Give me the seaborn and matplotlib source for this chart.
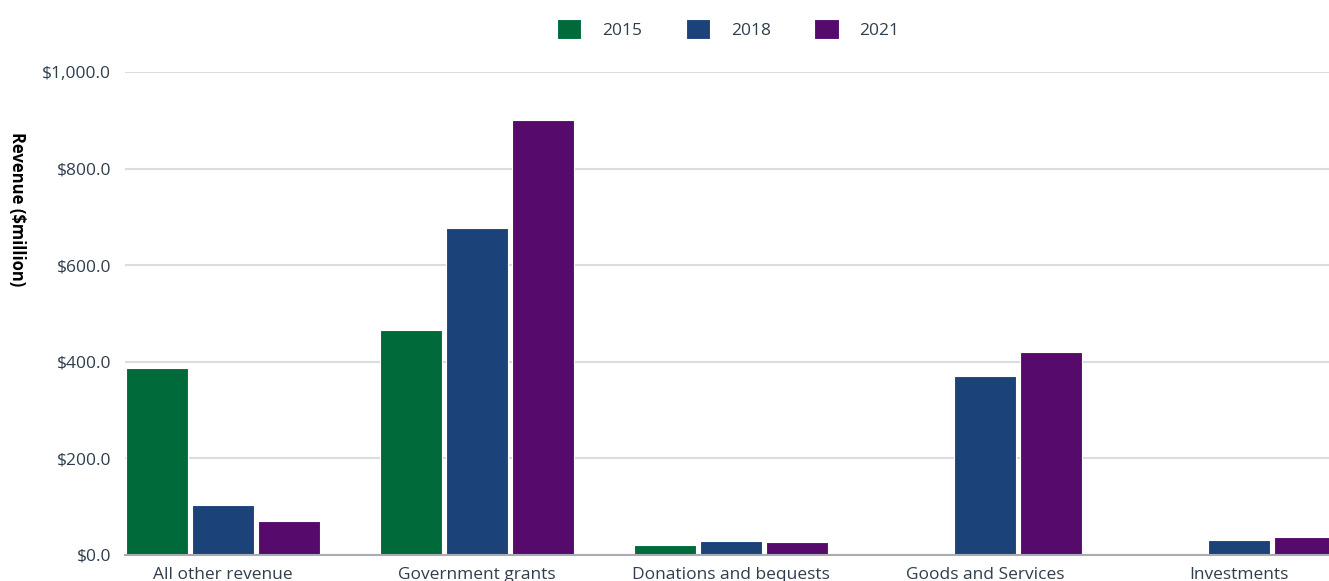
import pandas as pd
import numpy as np
import matplotlib.pyplot as plt
import seaborn as sns
from matplotlib.ticker import FuncFormatter

categories = ['All other revenue', 'Government grants', 'Donations and bequests',
              'Goods and Services', 'Investments']
years = ['2015', '2018', '2021']
rev_2015 = [387, 465, 20, np.nan, np.nan]
rev_2018 = [104, 676, 29, 371, 30]
rev_2021 = [71, 901, 26, 421, 38]
colors = ['#006a3a', '#1c427a', '#560b6c']

rows = []
for yr, vals in zip(years, [rev_2015, rev_2018, rev_2021]):
    for c, v in zip(categories, vals):
        if not np.isnan(v):
            rows.append({'Category': c, 'Year': yr, 'Revenue': v})
df = pd.DataFrame(rows)

sns.set_style('white')
plt.rcParams['font.family'] = ['Open Sans', 'DejaVu Sans']
text_col = '#2f3e4e'

fig = plt.figure(figsize=(13.29, 5.81), dpi=100)
ax = fig.add_axes([0.094, 0.0448, 0.906, 0.8313])

sns.barplot(data=df, x='Category', y='Revenue', hue='Year', order=categories,
            hue_order=years, palette=colors, width=0.78, gap=0.05,
            edgecolor='white', linewidth=0.8, saturation=1, ax=ax, legend=True)

ax.set_ylim(0, 1000)
ax.set_xlim(-0.386, 4.354)
ax.set_yticks([0, 200, 400, 600, 800, 1000])
ax.yaxis.set_major_formatter(FuncFormatter(lambda v, p: f'${v:,.1f}'))
ax.yaxis.grid(True, color='#d9dce0', lw=1.5)
ax.set_axisbelow(True)
for s in ['top', 'right', 'left']:
    ax.spines[s].set_visible(False)
ax.spines['bottom'].set_color('#a9adb3')
ax.spines['bottom'].set_linewidth(1.5)
ax.tick_params(axis='y', length=0, pad=10, labelsize=12.5, labelcolor=text_col)
ax.tick_params(axis='x', length=0, pad=9, labelsize=12.5, labelcolor=text_col)
ax.set_xlabel('')
ax.set_ylabel('')

fig.text(17 / 1329, 1 - 209 / 581, 'Revenue ($million)', rotation=270,
         ha='center', va='center', fontsize=12, fontweight='bold', color='black')

handles, labels = ax.get_legend_handles_labels()
ax.get_legend().remove()
fig.legend(handles, labels, loc='center', bbox_to_anchor=(0.548, 1 - 29 / 581),
           ncol=3, frameon=False, fontsize=12.5, handlelength=1.4, handleheight=1.4,
           handletextpad=1.2, columnspacing=2.5, labelcolor=text_col)

fig.savefig('out.png', dpi=100)
